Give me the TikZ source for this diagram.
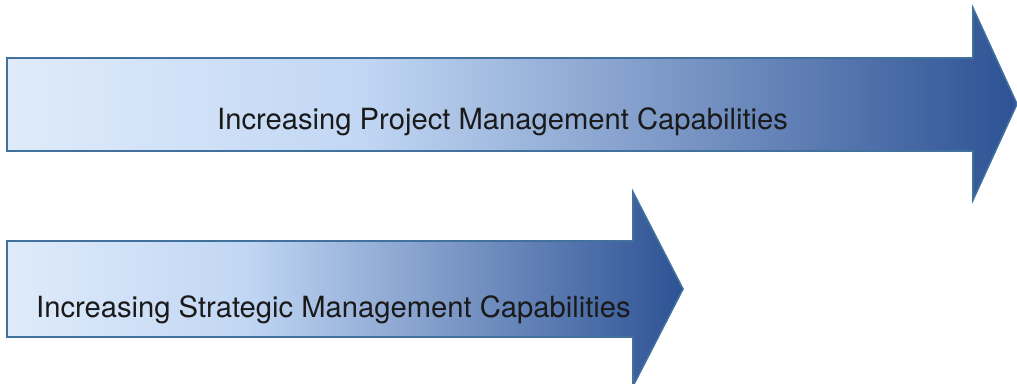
\documentclass[tikz,border=0pt]{standalone}
\usepackage{fontspec}
\setmainfont{TeX Gyre Heros}
\definecolor{cA}{HTML}{DFEBFA}
\definecolor{cB}{HTML}{C2D7F4}
\definecolor{cC}{HTML}{2D5294}
\definecolor{edgeblue}{HTML}{41719C}
\definecolor{txt}{HTML}{1A1A1A}
\pgfdeclarehorizontalshading{arrowshade}{100bp}{color(0bp)=(cA); color(25bp)=(cA); color(42.5bp)=(cB); color(75bp)=(cC); color(100bp)=(cC)}
\tikzset{
  bigarrow/.style={draw=edgeblue, line width=1.6pt, shading=arrowshade, line join=miter},
  label/.style={inner sep=0pt, anchor=base west, text=txt, font=\fontsize{29.2}{34}\selectfont}
}
\begin{document}
\begin{tikzpicture}[x=1pt,y=-1pt]
\useasboundingbox (0,0) rectangle (1017,383);
\clip (0,0) rectangle (1017,383);
\path[bigarrow] (7,58) -- (973,58) -- (973,8) -- (1017,104) -- (973,200) -- (973,151) -- (7,151) -- cycle;
\path[bigarrow] (7,241) -- (633,241) -- (633,192) -- (683,289) -- (633,386) -- (633,337) -- (7,337) -- cycle;
\node[label] (t1) at (217,129) {Increasing Project Management Capabilities};
\node[label] (t2) at (36,317) {Increasing Strategic Management Capabilities};
\end{tikzpicture}
\end{document}
